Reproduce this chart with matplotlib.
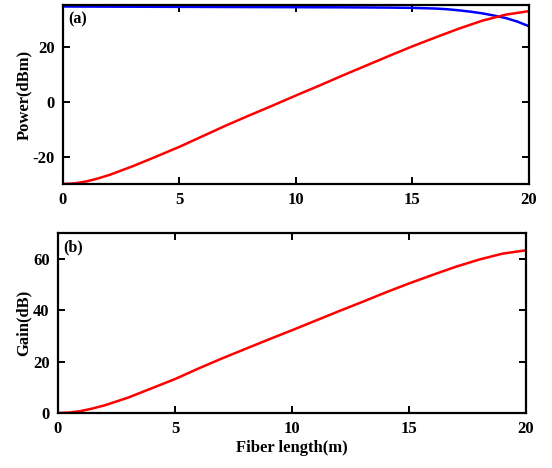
import matplotlib
matplotlib.use("Agg")
import matplotlib.pyplot as plt

# Data
length_red = [0, 0.5, 1, 1.5, 2, 3, 4, 5, 6, 7, 8, 9, 10, 11, 12, 13, 14, 15, 16, 17, 18, 19, 20]
signal_power = [-30.0, -29.8, -29.1, -28.0, -26.7, -23.5, -20.0, -16.4, -12.5, -8.6, -4.9, -1.3, 2.4,
                6.0, 9.7, 13.3, 16.9, 20.4, 23.7, 26.9, 29.8, 32.0, 33.3]
gain_db = [0.0, 0.2, 0.8, 1.8, 3.0, 6.0, 9.6, 13.2, 17.3, 21.2, 24.9, 28.6, 32.2,
           35.9, 39.6, 43.2, 46.9, 50.4, 53.7, 56.9, 59.7, 62.0, 63.3]
length_blue = [0, 2, 4, 6, 8, 10, 12, 14, 15, 16, 16.5, 17, 17.5, 18, 18.5, 19, 19.5, 20]
pump_power = [35.0, 34.95, 34.9, 34.85, 34.8, 34.75, 34.7, 34.6, 34.5, 34.25, 34.0, 33.6, 33.1,
              32.5, 31.7, 30.8, 29.5, 27.8]

xticks = [0, 5, 10, 15, 20]
yticks_a = [-20, 0, 20]
yticks_b = [0, 20, 40, 60]

plt.rcParams['font.family'] = ['Liberation Serif', 'DejaVu Serif']
plt.rcParams['font.weight'] = 'bold'
plt.rcParams['axes.labelweight'] = 'bold'
plt.rcParams['axes.unicode_minus'] = False

fig = plt.figure(figsize=(5.52, 4.68), dpi=100)
ax1 = fig.add_axes([0.114, 0.607, 0.844, 0.382])
ax2 = fig.add_axes([0.105, 0.1175, 0.848, 0.3845])

for ax in (ax1, ax2):
    for s in ax.spines.values():
        s.set_linewidth(1.6)
    ax.tick_params(direction='in', top=True, right=True, length=5, width=1.4,
                   labelsize=12, pad=6)

ax1.plot(length_blue, pump_power, color='#0000ff', lw=1.8)
ax1.plot(length_red, signal_power, color='#ff0000', lw=1.8)
ax1.set_xlim(0, 20)
ax1.set_ylim(-30, 35.5)
ax1.set_xticks(xticks)
ax1.set_yticks(yticks_a)
ax1.set_ylabel('Power(dBm)', fontsize=12, fontweight='bold', labelpad=0)
ax1.text(0.012, 0.965, '(a)', transform=ax1.transAxes, fontsize=11.5,
         fontweight='bold', va='top', ha='left')

ax2.plot(length_red, gain_db, color='#ff0000', lw=1.8)
ax2.set_xlim(0, 20)
ax2.set_ylim(0, 70)
ax2.set_xticks(xticks)
ax2.set_yticks(yticks_b)
ax2.set_ylabel('Gain(dB)', fontsize=12, fontweight='bold', labelpad=1)
ax2.set_xlabel('Fiber length(m)', fontsize=12, fontweight='bold', labelpad=2)
ax2.text(0.012, 0.965, '(b)', transform=ax2.transAxes, fontsize=11.5,
         fontweight='bold', va='top', ha='left')

for ax in (ax1, ax2):
    for lab in ax.get_xticklabels() + ax.get_yticklabels():
        lab.set_fontweight('bold')

fig.savefig('out.png', dpi=100)
